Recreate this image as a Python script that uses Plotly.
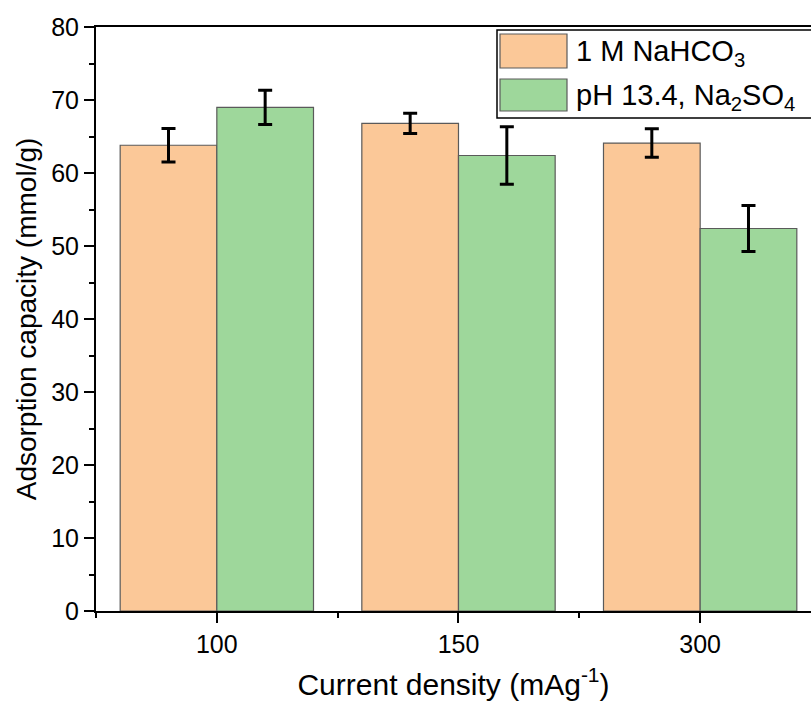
import plotly.graph_objects as go

categories = ["100", "150", "300"]
nahco3_values = [63.8, 66.8, 64.1]
nahco3_errors = [2.3, 1.4, 1.95]
na2so4_values = [69.0, 62.4, 52.4]
na2so4_errors = [2.35, 3.95, 3.15]
series_names = ["1 M NaHCO<sub>3</sub>", "pH 13.4, Na<sub>2</sub>SO<sub>4</sub>"]

ORANGE = "#FBC898"
GREEN = "#9ED79B"
FONT = "Liberation Sans, Arial, sans-serif"

W, H = 811, 707
L, T, B, R = 96, 27, 96, 0
xpos = list(range(len(categories)))

fig = go.Figure()
for vals, errs, color, name in [
    (nahco3_values, nahco3_errors, ORANGE, series_names[0]),
    (na2so4_values, na2so4_errors, GREEN, series_names[1]),
]:
    fig.add_trace(go.Bar(
        x=xpos, y=vals, name=name,
        marker=dict(color=color, line=dict(color="#5a5a5a", width=1.2)),
        error_y=dict(type="data", array=errs, visible=True, color="black", thickness=3, width=7),
        showlegend=False,
    ))

# custom legend (paper coordinates from pixel positions)
pw = W - L - R
ph = H - T - B
def px(x):
    return (x - L) / pw
def py(y):
    return 1 - (y - T) / ph

shapes = [
    dict(type="rect", xref="paper", yref="paper", x0=px(497), x1=px(815), y0=py(118), y1=py(30),
         line=dict(color="black", width=1.5), fillcolor="white", layer="above"),
    dict(type="rect", xref="paper", yref="paper", x0=px(500), x1=px(567), y0=py(68), y1=py(34),
         line=dict(color="#5a5a5a", width=1.2), fillcolor=ORANGE, layer="above"),
    dict(type="rect", xref="paper", yref="paper", x0=px(500), x1=px(567), y0=py(111), y1=py(79),
         line=dict(color="#5a5a5a", width=1.2), fillcolor=GREEN, layer="above"),
]
annotations = [
    dict(xref="paper", yref="paper", x=px(574), y=py(53), text=series_names[0], showarrow=False,
         xanchor="left", yanchor="middle", font=dict(family=FONT, size=29, color="black")),
    dict(xref="paper", yref="paper", x=px(574), y=py(97), text=series_names[1], showarrow=False,
         xanchor="left", yanchor="middle", font=dict(family=FONT, size=29, color="black")),
]

fig.update_layout(
    width=W, height=H,
    margin=dict(l=L, r=R, t=T, b=B),
    paper_bgcolor="white", plot_bgcolor="white",
    barmode="group", bargap=0.2, bargroupgap=0,
    font=dict(family=FONT, color="black"),
    shapes=shapes, annotations=annotations,
    xaxis=dict(
        range=[-0.5, 2.5 - 10 / 242], tickvals=xpos, ticktext=categories,
        showline=True, linecolor="black", linewidth=2, mirror=True,
        ticks="outside", ticklen=10, tickwidth=2, tickcolor="black",
        minor=dict(dtick=0.5, tick0=0.5, ticks="outside", ticklen=5, tickwidth=2, tickcolor="black"),
        showgrid=False, zeroline=False,
        tickfont=dict(size=25),
        title=dict(text="Current density (mAg<sup>-1</sup>)", font=dict(size=30), standoff=17),
    ),
    yaxis=dict(
        range=[0, 80], dtick=10,
        showline=True, linecolor="black", linewidth=2,
        ticks="outside", ticklen=10, tickwidth=2, tickcolor="black",
        minor=dict(dtick=5, ticks="outside", ticklen=5, tickwidth=2, tickcolor="black"),
        showgrid=False, zeroline=False,
        tickfont=dict(size=25),
        title=dict(text="Adsorption capacity (mmol/g)", font=dict(size=28), standoff=6),
    ),
)

fig.write_html("out.html")
